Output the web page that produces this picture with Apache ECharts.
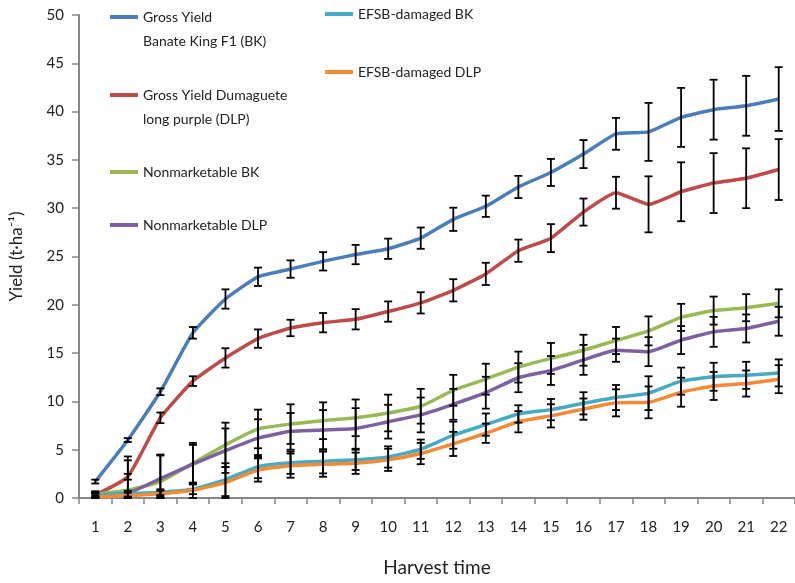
<!DOCTYPE html>
<html>
<head>
<meta charset="utf-8">
<script src="https://cdn.jsdelivr.net/npm/echarts@6/dist/echarts.min.js"></script>
<style>html,body{margin:0;padding:0;background:#fff;}#c{width:795px;height:583px;}</style>
</head>
<body>
<div id="c"></div>
<script>
var categories = ['1','2','3','4','5','6','7','8','9','10','11','12','13','14','15','16','17','18','19','20','21','22'];
var yTicks = [0,5,10,15,20,25,30,35,40,45,50];

var grossBK = [1.7, 6.0, 11.0, 17.1, 20.6, 22.9, 23.7, 24.5, 25.2, 25.8, 26.9, 28.85, 30.2, 32.2, 33.7, 35.6, 37.7, 37.9, 39.4, 40.2, 40.6, 41.3];
var grossBKErr = [0.2, 0.2, 0.35, 0.6, 1.0, 0.95, 0.9, 0.95, 1.0, 1.05, 1.1, 1.2, 1.1, 1.15, 1.4, 1.45, 1.65, 3.0, 3.05, 3.1, 3.1, 3.3];
var grossDLP = [0.3, 2.2, 8.3, 12.1, 14.5, 16.5, 17.6, 18.15, 18.5, 19.3, 20.2, 21.5, 23.2, 25.6, 26.9, 29.6, 31.6, 30.4, 31.7, 32.6, 33.1, 34.0];
var grossDLPErr = [0.2, 0.3, 0.55, 0.5, 1.0, 0.95, 0.85, 1.0, 1.05, 1.05, 1.1, 1.15, 1.15, 1.15, 1.45, 1.4, 1.65, 2.9, 3.05, 3.1, 3.1, 3.15];
var nonBK = [0.4, 0.8, 1.7, 3.6, 5.5, 7.15, 7.65, 8.0, 8.3, 8.8, 9.5, 11.15, 12.3, 13.55, 14.45, 15.3, 16.3, 17.3, 18.7, 19.4, 19.7, 20.15];
var nonBKErr = [0.3, 3.5, 2.7, 2.1, 2.3, 2.0, 2.05, 1.9, 1.9, 1.9, 1.8, 1.6, 1.6, 1.6, 1.6, 1.6, 1.4, 1.5, 1.4, 1.45, 1.4, 1.45];
var nonDLP = [0.3, 0.5, 2.0, 3.5, 4.9, 6.2, 6.9, 7.05, 7.2, 7.9, 8.6, 9.7, 10.9, 12.45, 13.2, 14.3, 15.3, 15.15, 16.35, 17.2, 17.55, 18.3];
var nonDLPErr = [0.3, 3.4, 2.5, 2.0, 2.3, 1.95, 1.9, 2.05, 2.1, 1.75, 1.8, 1.6, 1.65, 1.5, 1.5, 1.55, 1.2, 1.5, 1.45, 1.55, 1.45, 1.5];
var efsbBK = [0.3, 0.45, 0.6, 0.9, 1.9, 3.25, 3.65, 3.8, 3.95, 4.25, 5.05, 6.5, 7.6, 8.7, 9.15, 9.8, 10.4, 10.85, 12.1, 12.55, 12.7, 12.95];
var efsbBKErr = [0.2, 0.3, 0.3, 0.5, 1.7, 1.2, 1.15, 1.25, 1.05, 1.1, 1.0, 1.4, 1.15, 0.9, 1.1, 1.15, 1.3, 1.75, 1.4, 1.45, 1.4, 1.4];
var efsbDLP = [0.1, 0.25, 0.45, 0.8, 1.6, 2.9, 3.35, 3.5, 3.6, 3.95, 4.6, 5.6, 6.7, 7.9, 8.5, 9.2, 9.85, 9.9, 10.95, 11.6, 11.85, 12.3];
var efsbDLPErr = [0.2, 0.3, 0.3, 0.8, 1.6, 1.2, 1.25, 1.3, 1.1, 1.15, 1.1, 1.25, 1.0, 1.1, 1.2, 1.1, 1.4, 1.65, 1.5, 1.45, 1.35, 1.45];

var seriesNames = ['Gross Yield Banate King F1 (BK)', 'Gross Yield Dumaguete long purple (DLP)', 'Nonmarketable BK', 'Nonmarketable DLP', 'EFSB-damaged BK', 'EFSB-damaged DLP'];
var colors = ['#4A7EBB', '#BE4B48', '#98B954', '#7D60A0', '#46AAC5', '#F38A35'];
var values = [grossBK, grossDLP, nonBK, nonDLP, efsbBK, efsbDLP];
var errors = [grossBKErr, grossDLPErr, nonBKErr, nonDLPErr, efsbBKErr, efsbDLPErr];

var FONT = 'Lato';

var errData = [];
values.forEach(function (vals, s) {
  vals.forEach(function (v, i) {
    errData.push([i, v - errors[s][i], v + errors[s][i]]);
  });
});

var series = values.map(function (vals, s) {
  return {
    name: seriesNames[s], type: 'line', data: vals, smooth: 0.15,
    symbol: 'none', lineStyle: { width: 3.5, color: colors[s] }, itemStyle: { color: colors[s] },
    z: 2
  };
});
series.push({
  type: 'custom', name: 'err', z: 5, silent: true,
  data: errData,
  renderItem: function (params, api) {
    var x = api.value(0);
    var lo = Math.max(0, api.value(1));
    var hi = api.value(2);
    var pHi = api.coord([x, hi]);
    var pLo = api.coord([x, lo]);
    var w = 4;
    var st = { stroke: '#000', lineWidth: 1.8 };
    return {
      type: 'group',
      children: [
        { type: 'line', shape: { x1: pHi[0], y1: pHi[1], x2: pLo[0], y2: pLo[1] }, style: st },
        { type: 'line', shape: { x1: pHi[0] - w, y1: pHi[1], x2: pHi[0] + w, y2: pHi[1] }, style: st },
        { type: 'line', shape: { x1: pLo[0] - w, y1: pLo[1], x2: pLo[0] + w, y2: pLo[1] }, style: st }
      ]
    };
  }
});

function mkLegend(name, label, left, top) {
  return {
    data: [name], left: left, top: top, padding: 0, orient: 'vertical',
    icon: 'rect', itemWidth: 28, itemHeight: 4, itemGap: 0,
    selectedMode: false,
    formatter: function () { return label; },
    textStyle: { fontFamily: FONT, fontSize: 14, color: '#222' }
  };
}

var option = {
  animation: false,
  backgroundColor: '#fff',
  color: colors,
  legend: [
    mkLegend(seriesNames[0], 'Gross Yield', 110, 10),
    mkLegend(seriesNames[1], 'Gross Yield Dumaguete', 110, 88),
    mkLegend(seriesNames[2], 'Nonmarketable BK', 110, 165),
    mkLegend(seriesNames[3], 'Nonmarketable DLP', 110, 218),
    mkLegend(seriesNames[4], 'EFSB-damaged BK', 325, 7),
    mkLegend(seriesNames[5], 'EFSB-damaged DLP', 325, 65)
  ],
  graphic: [
    { type: 'text', left: 143, top: 34, style: { text: 'Banate King F1 (BK)', font: '14px ' + FONT, fill: '#222' } },
    { type: 'text', left: 143, top: 112, style: { text: 'long purple (DLP)', font: '14px ' + FONT, fill: '#222' } }
  ],
  grid: { left: 77, right: 0, top: 15, bottom: 85, containLabel: false },
  xAxis: {
    type: 'category', data: categories, boundaryGap: true,
    name: 'Harvest time', nameLocation: 'middle', nameGap: 60,
    nameTextStyle: { fontFamily: FONT, fontSize: 19, color: '#222' },
    axisLine: { lineStyle: { color: '#878787', width: 2 } },
    axisTick: { show: true, length: 6, lineStyle: { color: '#878787', width: 1.5 } },
    axisLabel: { interval: 0, margin: 22, fontFamily: FONT, fontSize: 15, color: '#222' },
    splitLine: { show: false }
  },
  yAxis: {
    type: 'value', min: yTicks[0], max: yTicks[yTicks.length - 1], interval: 5,
    name: 'Yield (t·ha⁻¹)', nameLocation: 'middle', nameGap: 54, nameRotate: 90,
    nameTextStyle: { fontFamily: FONT, fontSize: 17, color: '#222' },
    axisLine: { show: true, lineStyle: { color: '#878787', width: 2 } },
    axisTick: { show: true, length: 7, lineStyle: { color: '#878787', width: 1.5 } },
    axisLabel: { margin: 15, fontFamily: FONT, fontSize: 15, color: '#222' },
    splitLine: { show: false }
  },
  series: series
};

var chart = echarts.init(document.getElementById('c'), null, { renderer: 'canvas' });
chart.setOption(option);
</script>
</body>
</html>
